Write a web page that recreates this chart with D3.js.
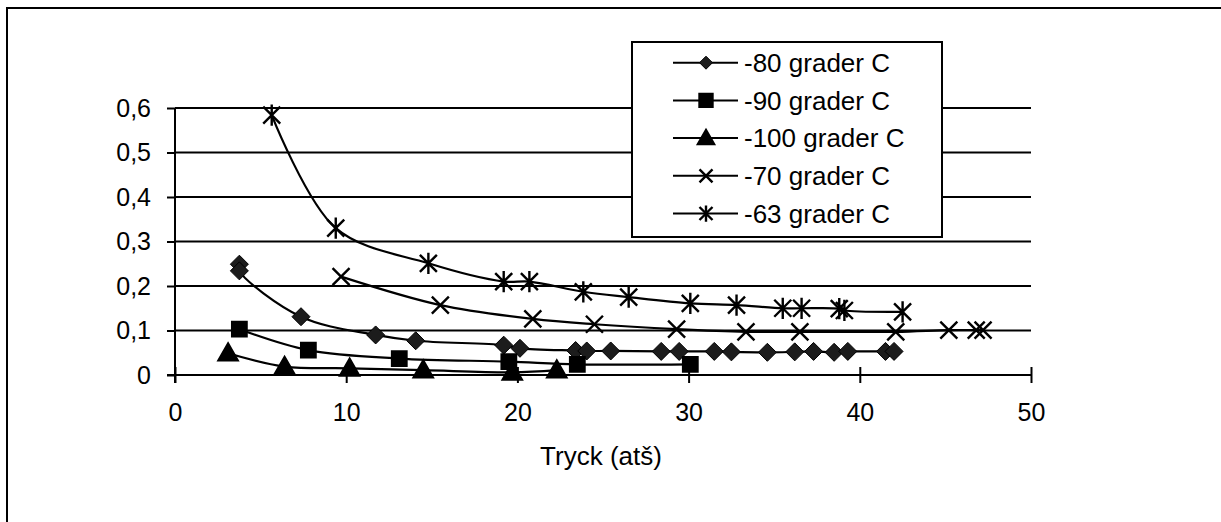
<!DOCTYPE html>
<html lang="sv">
<head>
  <meta charset="UTF-8">
  <title>Tryck</title>
  <script src="https://d3js.org/d3.v7.min.js"></script>
  <style>
    body { margin: 0; background: #fff; }
    text { font-family: "Liberation Sans", Arial, sans-serif; fill: #000; }
  </style>
</head>
<body>
  <div id="chart"></div>

  <script>
    // data: [tryck, value]
    const seriesNames = ["-80 grader C", "-90 grader C", "-100 grader C", "-70 grader C", "-63 grader C"];
    const seriesMarkers = ["diamond", "square", "triangle", "x", "star"];

    const s80 = [[3.76, 0.249], [3.76, 0.234], [7.36, 0.131], [11.72, 0.09], [14.06, 0.077], [19.2, 0.067],
      [20.15, 0.06], [23.4, 0.055], [24.05, 0.054], [25.45, 0.054], [28.4, 0.053], [29.45, 0.053],
      [31.5, 0.053], [32.5, 0.052], [34.6, 0.051], [36.2, 0.052], [37.3, 0.053], [38.5, 0.051],
      [39.3, 0.053], [41.5, 0.053], [42.0, 0.053]];
    const s90 = [[3.76, 0.103], [7.79, 0.056], [13.1, 0.037], [19.5, 0.03], [23.5, 0.024], [30.1, 0.024]];
    const s100 = [[3.1, 0.049], [6.4, 0.019], [10.2, 0.015], [14.5, 0.011], [19.7, 0.006], [22.3, 0.011]];
    const s70 = [[9.7, 0.221], [15.5, 0.157], [20.9, 0.126], [24.5, 0.114], [29.3, 0.103], [33.35, 0.097],
      [36.5, 0.097], [42.1, 0.097], [45.2, 0.101], [46.8, 0.101], [47.2, 0.101]];
    const s63 = [[5.65, 0.584], [9.39, 0.33], [14.8, 0.251], [19.2, 0.21], [20.7, 0.21], [23.85, 0.187],
      [26.5, 0.175], [30.1, 0.161], [32.8, 0.157], [35.5, 0.15], [36.6, 0.15], [38.8, 0.149],
      [39.1, 0.145], [42.5, 0.142]];
    const seriesData = [s80, s90, s100, s70, s63];

    const xTicks = [0, 10, 20, 30, 40, 50];
    const yTicks = [0, 0.1, 0.2, 0.3, 0.4, 0.5, 0.6];
    const yTickLabels = ["0", "0,1", "0,2", "0,3", "0,4", "0,5", "0,6"];
    const xTitle = "Tryck (atš)";

    const width = 1221;
    const height = 522;

    const svg = d3.select("#chart")
      .append("svg")
      .attr("width", width)
      .attr("height", height);

    // outer chart frame (only left/top fall inside the picture)
    svg.append("rect")
      .attr("x", 7).attr("y", 8)
      .attr("width", 1400).attr("height", 700)
      .attr("fill", "none")
      .attr("stroke", "#000")
      .attr("stroke-width", 2);

    const x = d3.scaleLinear().domain([0, 50]).range([175, 1031]);
    const y = d3.scaleLinear().domain([0, 0.6]).range([375, 108]);

    // gridlines
    svg.append("g")
      .selectAll("line")
      .data(yTicks.slice(1))
      .join("line")
      .attr("x1", x(0)).attr("x2", x(50))
      .attr("y1", d => y(d)).attr("y2", d => y(d))
      .attr("stroke", "#000")
      .attr("stroke-width", 2);

    // y axis
    const yAxis = svg.append("g")
      .attr("transform", `translate(${x(0)},0)`)
      .call(d3.axisLeft(y).tickValues(yTicks).tickSize(8).tickPadding(16)
        .tickFormat((d, i) => yTickLabels[i]));
    yAxis.select(".domain").attr("d", `M0,${y(0.6)}V${y(0) + 8}`);

    // x axis, ticks cross the line
    const xAxis = svg.append("g")
      .attr("transform", `translate(0,${y(0)})`)
      .call(d3.axisBottom(x).tickValues(xTicks).tickSize(8).tickPadding(20));
    xAxis.select(".domain").attr("d", `M${x(0) - 8},0H${x(50)}`);
    xAxis.selectAll(".tick line").attr("y1", -8);

    svg.selectAll(".domain, .tick line")
      .attr("stroke", "#000")
      .attr("stroke-width", 2);
    svg.selectAll(".tick text")
      .style("font-family", "'Liberation Sans', Arial, sans-serif")
      .style("font-size", "25px")
      .attr("fill", "#000");
    xAxis.selectAll(".tick text").attr("dy", "0.71em");

    svg.append("text")
      .attr("x", 601)
      .attr("y", 465)
      .attr("text-anchor", "middle")
      .style("font-size", "26px")
      .text(xTitle);

    function markerPath(type, s) {
      switch (type) {
        case "diamond": return `M0,${-s}L${s},0L0,${s}L${-s},0Z`;
        case "square": return `M${-s},${-s}H${s}V${s}H${-s}Z`;
        case "triangle": return `M0,${-s}L${s},${s * 0.75}L${-s},${s * 0.75}Z`;
        case "x": return `M${-s},${-s}L${s},${s}M${s},${-s}L${-s},${s}`;
        default: return `M${-s},${-s}L${s},${s}M${s},${-s}L${-s},${s}M0,${-s * 1.25}V${s * 1.25}`;
      }
    }

    function drawMarker(g, type, s) {
      const filled = type === "diamond" || type === "square" || type === "triangle";
      g.append("path")
        .attr("d", markerPath(type, s))
        .attr("fill", filled ? (type === "diamond" ? "#1c1c1c" : "#000") : "none")
        .attr("stroke", "#000")
        .attr("stroke-width", type === "diamond" ? 1 : 2.4);
    }

    const line = d3.line()
      .x(d => x(d[0]))
      .y(d => y(d[1]))
      .curve(d3.curveCatmullRom.alpha(0.5));

    const markerSize = { diamond: 9, square: 7.2, triangle: 9.5, x: 8.5, star: 8.5 };

    seriesData.forEach((pts, i) => {
      const g = svg.append("g");
      g.append("path")
        .datum(pts)
        .attr("d", line)
        .attr("fill", "none")
        .attr("stroke", "#000")
        .attr("stroke-width", 2.2);
      pts.forEach(p => {
        const m = g.append("g").attr("transform", `translate(${x(p[0])},${y(p[1])})`);
        drawMarker(m, seriesMarkers[i], markerSize[seriesMarkers[i]]);
      });
    });

    // legend
    const legend = svg.append("g");
    legend.append("rect")
      .attr("x", 632).attr("y", 42)
      .attr("width", 310).attr("height", 195)
      .attr("fill", "#fff")
      .attr("stroke", "#000")
      .attr("stroke-width", 2);

    seriesNames.forEach((name, i) => {
      const cy = 62.7 + i * 37.7;
      legend.append("line")
        .attr("x1", 673).attr("x2", 738)
        .attr("y1", cy).attr("y2", cy)
        .attr("stroke", "#000")
        .attr("stroke-width", 2);
      const m = legend.append("g").attr("transform", `translate(706,${cy})`);
      drawMarker(m, seriesMarkers[i], seriesMarkers[i] === "triangle" ? 8 : 6.5);
      legend.append("text")
        .attr("x", 744)
        .attr("y", cy)
        .attr("dy", "0.35em")
        .style("font-size", "26px")
        .text(name);
    });
  </script>
</body>
</html>
